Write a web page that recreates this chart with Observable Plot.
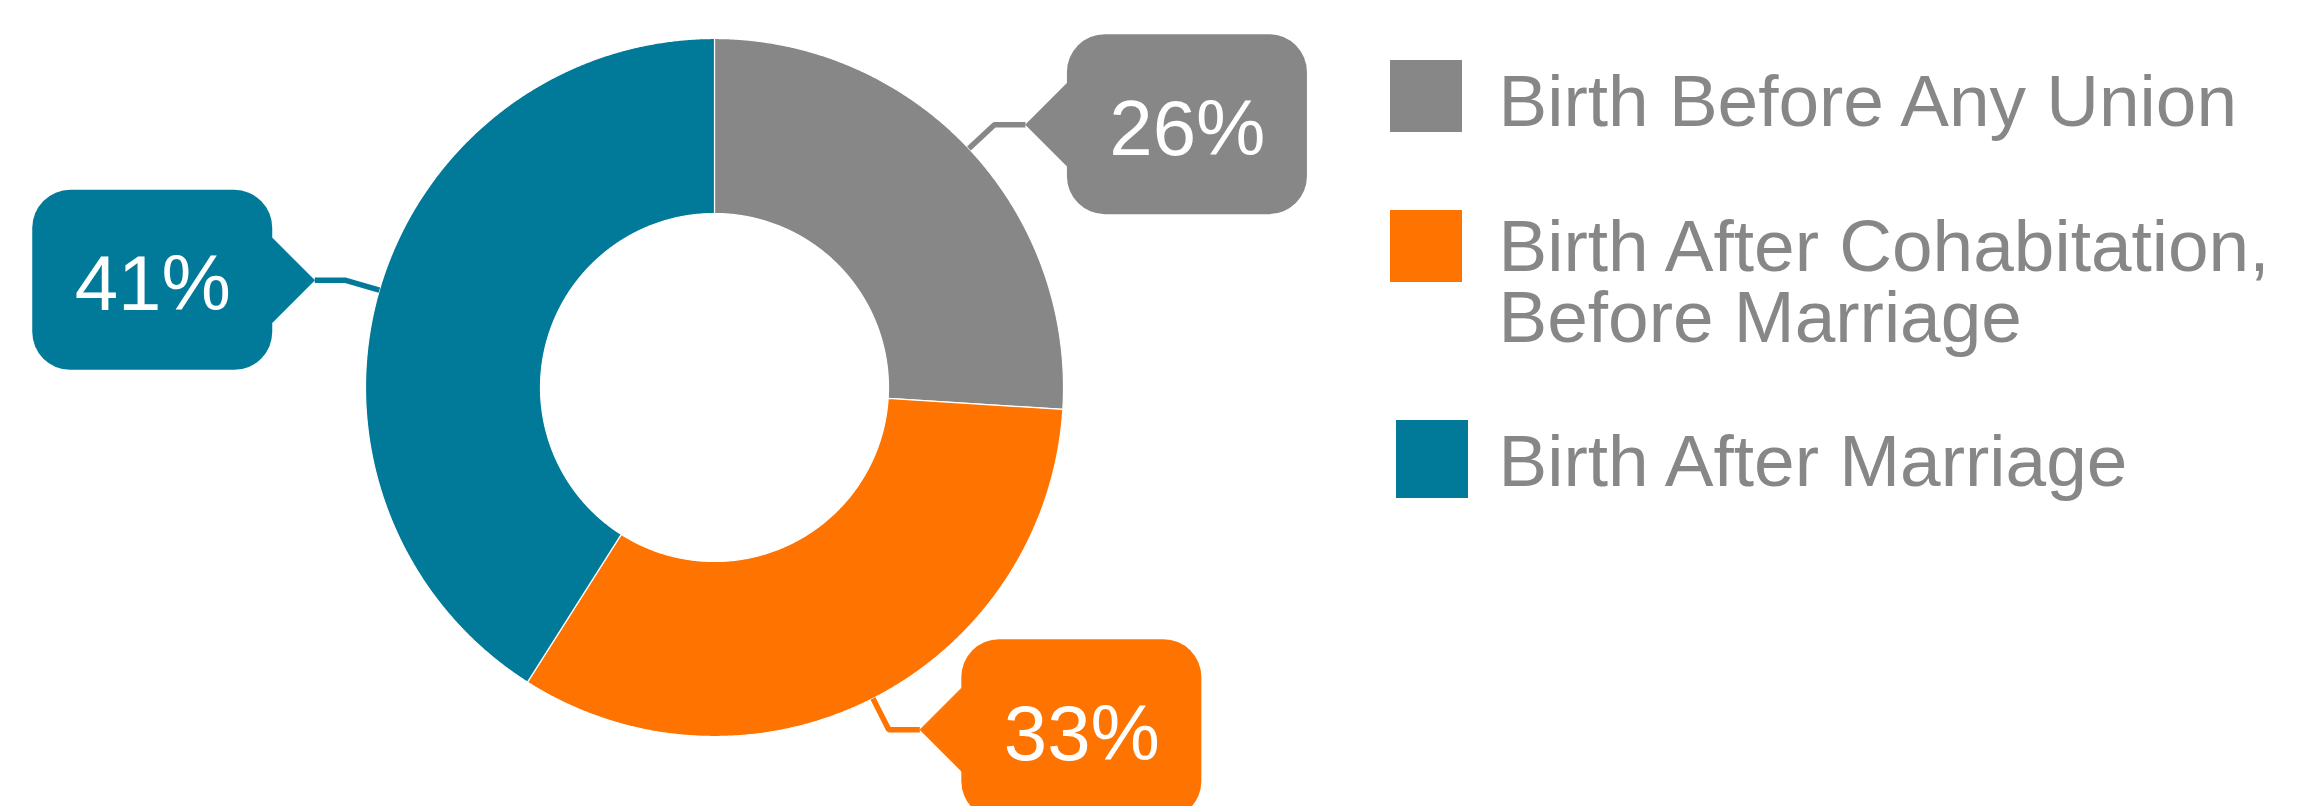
<!DOCTYPE html>
<html><head><meta charset="utf-8">
<script src="https://cdn.jsdelivr.net/npm/d3@7"></script>
<script src="https://cdn.jsdelivr.net/npm/@observablehq/plot@0.6"></script>
<style>
html,body{margin:0;padding:0;background:#fff;overflow:hidden;}
svg{display:block;}
</style>
</head><body><div id="chart"></div>
<script>
// ---- data ----
const categories = ["Birth Before Any Union", "Birth After Cohabitation, Before Marriage", "Birth After Marriage"];
const legendLabels = ["Birth Before Any Union", "Birth After Cohabitation,\nBefore Marriage", "Birth After Marriage"];
const shares = [26, 33, 41];
const shareLabels = ["26%", "33%", "41%"];
const colors = ["#878787", "#FF7300", "#007A98"];

// ---- layout ----
const W = 2321, H = 806;
const cx = 714, cy = 387, R = 349, r0 = 174;
const startAngle = 0;
const legendTop = [60, 210, 420];
const legendLeft = [1390, 1390, 1396];
const legendH = [72, 72, 78];
const legendTextY = [74.5, 219.5, 434.5];
const textGray = "#878787";
const font = "'Liberation Sans', Arial, Helvetica, sans-serif";

const total = d3.sum(shares);
let acc = 0;
const slices = shares.map((v, i) => {
  const a0 = startAngle + acc / total * 2 * Math.PI;
  acc += v;
  const a1 = startAngle + acc / total * 2 * Math.PI;
  return {i, cat: categories[i], color: colors[i], label: shareLabels[i], a0, a1, mid: (a0 + a1) / 2};
});
const pt = (a, rad) => [cx + rad * Math.sin(a), cy - rad * Math.cos(a)];

const marks = [];
// slices (annular sectors as filled polygons)
for (const s of slices) {
  const n = Math.max(2, Math.ceil((s.a1 - s.a0) / (Math.PI / 720)));
  const pts = [];
  for (let k = 0; k <= n; k++) { const [x, y] = pt(s.a0 + (s.a1 - s.a0) * k / n, R); pts.push({x, y}); }
  for (let k = n; k >= 0; k--) { const [x, y] = pt(s.a0 + (s.a1 - s.a0) * k / n, r0); pts.push({x, y}); }
  pts.push(pts[0]);
  marks.push(Plot.line(pts, {x: "x", y: "y", fill: s.color, stroke: "white", strokeWidth: 1.2, strokeLinejoin: "miter"}));
}

// callouts
const boxes = [], texts = [];
for (const s of slices) {
  const right = Math.sin(s.mid) > 0;
  const dir = right ? 1 : -1;
  const [ox, oy] = pt(s.mid, R);
  const [ex, ey] = pt(s.mid, R + 35);
  const tx = ex + dir * 31;
  const near = tx + dir * 42;
  const far = near + dir * 240;
  const leader = [{x: ox, y: oy}, {x: ex, y: ey}, {x: tx, y: ey}];
  marks.push(Plot.line(leader, {x: "x", y: "y", stroke: s.color, strokeWidth: 5.5, strokeLinejoin: "miter", strokeLinecap: "butt"}));
  const tri = [{x: near + dir * 4, y: ey - 42}, {x: near, y: ey - 42}, {x: tx, y: ey}, {x: near, y: ey + 42}, {x: near + dir * 4, y: ey + 42}];
  marks.push(Plot.line(tri, {x: "x", y: "y", fill: s.color, stroke: s.color, strokeWidth: 0.5}));
  boxes.push({x1: Math.min(near, far), x2: Math.max(near, far), y1: ey - 90, y2: ey + 90, color: s.color});
  texts.push({x: (near + far) / 2, y: ey, label: s.label});
}
marks.push(Plot.rect(boxes, {x1: "x1", x2: "x2", y1: "y1", y2: "y2", fill: d => d.color, rx: 38, ry: 38}));
marks.push(Plot.text(texts, {x: "x", y: "y", text: "label", fill: "white", fontSize: 78, dy: 5, textAnchor: "middle", lineAnchor: "middle", fontFamily: font}));

// legend
const legendRows = categories.map((c, i) => ({cat: c, label: legendLabels[i], color: colors[i], x1: legendLeft[i], x2: legendLeft[i] + 72, y1: legendTop[i], y2: legendTop[i] + legendH[i], tx: 1498, ty: legendTextY[i]}));
marks.push(Plot.rect(legendRows, {x1: "x1", x2: "x2", y1: "y1", y2: "y2", fill: d => d.color}));
marks.push(Plot.text(legendRows, {x: "tx", y: "ty", text: "label", fill: textGray, fontSize: 73, lineHeight: 0.975, textAnchor: "start", lineAnchor: "top", fontFamily: font}));

const chart = Plot.plot({
  width: W, height: H,
  margin: 0,
  x: {domain: [0, W], range: [0, W], axis: null},
  y: {domain: [0, H], range: [0, H], axis: null},
  style: {fontFamily: font, background: "white", overflow: "hidden"},
  marks
});
document.getElementById("chart").appendChild(chart);
</script>
</body></html>
